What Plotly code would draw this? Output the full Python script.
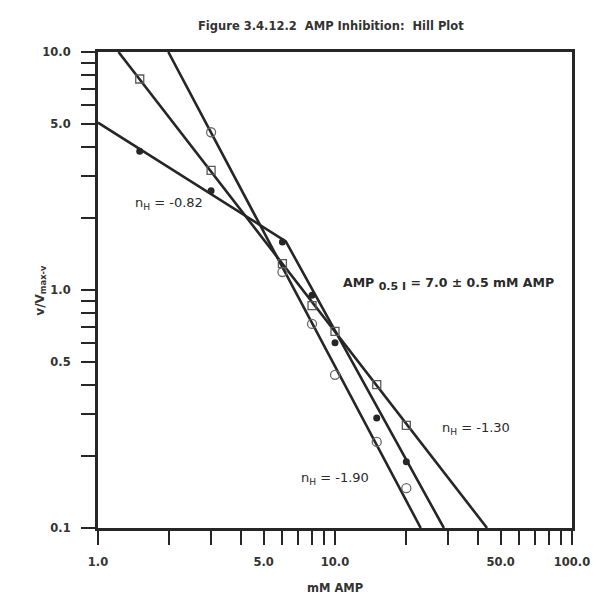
import plotly.graph_objects as go

# Measured points: inhibitor concentration (mM AMP) vs v/(Vmax - v)
filled_x = [1.5, 3.0, 6.0, 8.0, 10.0, 15.0, 20.0]
filled_y = [3.83, 2.61, 1.59, 0.95, 0.60, 0.29, 0.19]

open_x = [3.0, 6.0, 8.0, 10.0, 15.0, 20.0]
open_y = [4.6, 1.19, 0.72, 0.44, 0.23, 0.147]

square_x = [1.5, 3.0, 6.0, 8.0, 10.0, 15.0, 20.0]
square_y = [7.7, 3.18, 1.29, 0.86, 0.67, 0.40, 0.27]

# Fitted Hill lines (end points / break points)
filled_fit_x = [1.0, 6.2, 28.8]
filled_fit_y = [5.05, 1.6, 0.1]
open_fit_x = [1.98, 23.0]
open_fit_y = [10.0, 0.1]
square_fit_x = [1.22, 43.8]
square_fit_y = [10.0, 0.1]

# Axis ticks
x_tickvals = [1, 2, 3, 4, 5, 6, 7, 8, 9, 10, 20, 30, 40, 50, 60, 70, 80, 90, 100]
x_ticktext = ["1.0", "", "", "", "5.0", "", "", "", "", "10.0",
              "", "", "", "50.0", "", "", "", "", "100.0"]
y_tickvals = [0.1, 0.2, 0.3, 0.4, 0.5, 0.6, 0.7, 0.8, 0.9, 1,
              2, 3, 4, 5, 6, 7, 8, 9, 10]
y_ticktext = ["0.1", "", "", "", "0.5", "", "", "", "", "1.0",
              "", "", "", "5.0", "", "", "", "", "10.0"]

INK = "#262626"
TEXT = "#333333"
FONT = "DejaVu Sans"

fig = go.Figure()

line_style = dict(color=INK, width=2.6)
for fx, fy in [(filled_fit_x, filled_fit_y), (open_fit_x, open_fit_y),
               (square_fit_x, square_fit_y)]:
    fig.add_trace(go.Scatter(x=fx, y=fy, mode="lines", line=line_style,
                             hoverinfo="skip", showlegend=False))

fig.add_trace(go.Scatter(
    x=filled_x, y=filled_y, mode="markers", showlegend=False,
    marker=dict(symbol="circle", size=7, color=INK)))
fig.add_trace(go.Scatter(
    x=open_x, y=open_y, mode="markers", showlegend=False,
    marker=dict(symbol="circle-open", size=9, color="#6a6a6a",
                line=dict(width=1.3))))
fig.add_trace(go.Scatter(
    x=square_x, y=square_y, mode="markers", showlegend=False,
    marker=dict(symbol="square-open", size=8, color="#5a5a5a",
                line=dict(width=1.3))))

axis_common = dict(
    type="log", showgrid=False, zeroline=False,
    showline=True, linecolor=INK, linewidth=3, mirror=True,
    ticks="outside", ticklen=14, tickwidth=2, tickcolor=INK,
    tickfont=dict(family=FONT, size=11.5, color=TEXT, weight="bold"),
)

fig.update_xaxes(range=[0, 2], tickmode="array", tickvals=x_tickvals,
                 ticktext=x_ticktext, ticklabelstandoff=7, **axis_common)
fig.update_yaxes(range=[-1, 1], tickmode="array", tickvals=y_tickvals,
                 ticktext=y_ticktext, ticklabelstandoff=8, **axis_common)

ann_font = dict(family=FONT, size=13, color="#2a2a2a")
annotations = [
    dict(text="Figure 3.4.12.2\u00a0\u00a0AMP Inhibition:\u00a0\u00a0Hill Plot",
         xref="paper", yref="paper", x=0.491, y=1.073, showarrow=False,
         font=dict(family=FONT, size=11.5, color=TEXT, weight="bold")),
    dict(text="mM AMP", xref="paper", yref="paper", x=0.5, y=-0.145,
         showarrow=False,
         font=dict(family=FONT, size=11.5, color=TEXT, weight="bold")),
    dict(text="v/V<sub>max</sub><sub>-v</sub>", xref="paper", yref="paper",
         x=-0.142, y=0.5, textangle=-90, showarrow=False,
         font=dict(family=FONT, size=12, color=TEXT, weight="bold")),
    dict(text="n<sub>H</sub> = -0.82", xref="x", yref="y", x=0.149, y=0.364,
         xanchor="left", showarrow=False, font=ann_font),
    dict(text="AMP <sub><span style='font-size:11px'>0.5 I</span></sub>"
              " = 7.0 \u00b1 0.5 mM AMP", xref="x", yref="y",
         x=1.025, y=0.024, xanchor="left", showarrow=False,
         font=dict(family=FONT, size=12.5, color="#2a2a2a", weight="bold")),
    dict(text="n<sub>H</sub> = -1.30", xref="x", yref="y", x=1.445, y=-0.581,
         xanchor="left", showarrow=False, font=ann_font),
    dict(text="n<sub>H</sub> = -1.90", xref="x", yref="y", x=0.85, y=-0.791,
         xanchor="left", showarrow=False, font=ann_font),
]

fig.update_layout(
    width=602, height=604,
    margin=dict(l=98, r=27, t=52, b=76),
    paper_bgcolor="white", plot_bgcolor="white",
    annotations=annotations,
    showlegend=False,
)

fig.write_html("out.html")
